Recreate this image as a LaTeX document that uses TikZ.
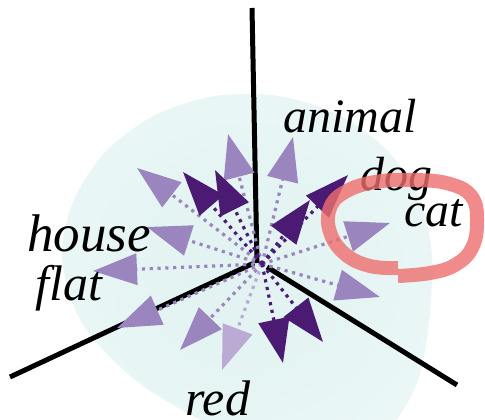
\documentclass[tikz,border=0pt]{standalone}
\usepackage{fontspec}
\setmainfont{Liberation Serif}
\usetikzlibrary{arrows.meta}
\definecolor{medp}{RGB}{155,133,190}
\definecolor{darkp}{RGB}{75,26,115}
\definecolor{lightp}{RGB}{187,170,212}
\definecolor{pinkc}{RGB}{238,110,110}
\definecolor{ellA}{RGB}{224,242,241}
\definecolor{ellB}{RGB}{234,247,246}
\definecolor{ellC}{RGB}{243,250,250}
\pgfdeclareradialshading{ellshade}{\pgfpoint{0bp}{0bp}}{color(0bp)=(ellA); color(28bp)=(ellB); color(50bp)=(ellC)}
\tikzset{
  axis/.style={line width=5pt, black},
  arr/.style={line width=3.2pt, dash pattern=on 3.2pt off 4.6pt, -{Triangle[length=44pt,width=31pt]}},
  medarr/.style={arr, medp},
  darkarr/.style={arr, darkp},
  lightarr/.style={arr, lightp},
  word/.style={inner sep=0pt, anchor=base west, font=\itshape\fontsize{48}{48}\selectfont},
  bigword/.style={word, font=\itshape\fontsize{50}{50}\selectfont},
  pinkloop/.style={line width=14pt, pinkc, opacity=0.8}
}
\begin{document}
\begin{tikzpicture}[x=1pt,y=-1pt]
\useasboundingbox (0,0) rectangle (485,420);
% background blob
\shade[shading=ellshade] plot[smooth cycle] coordinates {(432,258) (429,323) (418,380) (393,423) (349,445) (284,445) (208,423) (135,380) (82,323) (62,258) (73,202) (105,152) (155,115) (215,96) (279,96) (339,115) (389,152) (421,202)};
% axes
\coordinate (ztop) at (252,8);
\coordinate (zbot) at (257,263);
\coordinate (xl) at (10,377);
\coordinate (xle) at (254,263);
\coordinate (yr0) at (267,267);
\coordinate (yr) at (457,385);
\draw[axis] (ztop) -- (zbot);
\draw[axis] (xl) -- (xle);
\draw[axis] (yr0) -- (yr);
% arrows
\coordinate (o) at (262,264);
\coordinate (t1) at (228,134);
\coordinate (t2) at (293,137);
\coordinate (t3) at (137,168);
\coordinate (t4) at (183,172);
\coordinate (t5) at (215,170);
\coordinate (t6) at (348,175);
\coordinate (t7) at (310,200);
\coordinate (t8) at (147,227);
\coordinate (t9) at (93,271);
\coordinate (t10) at (117,328);
\coordinate (t11) at (180,350);
\coordinate (t12) at (222,370);
\coordinate (t13) at (283,363);
\coordinate (t14) at (323,342);
\coordinate (t15) at (380,297);
\coordinate (t16) at (390,223);
\draw[medarr] (o) -- (t1);
\draw[medarr] (o) -- (t2);
\draw[medarr] (o) -- (t3);
\draw[medarr] (o) -- (t8);
\draw[medarr] (o) -- (t9);
\draw[medarr] (o) -- (t10);
\draw[medarr] (o) -- (t11);
\draw[lightarr] (o) -- (t12);
\draw[medarr] (o) -- (t15);
\draw[medarr] (o) -- (t16);
\draw[darkarr] (o) -- (t4);
\draw[darkarr] (o) -- (t5);
\draw[darkarr] (o) -- (t6);
\draw[darkarr] (o) -- (t7);
\draw[darkarr] (o) -- (t13);
\draw[darkarr] (o) -- (t14);
% words
\node[word] (animal) at (283,132) {animal};
\node[word] (dog) at (360,190) {dog};
\node[word] (cat) at (404,226) {cat};
\node[word, font=\itshape\fontsize{53}{53}\selectfont] (house) at (27,251) {house};
\node[bigword] (flat) at (35,300) {flat};
\node[bigword] (red) at (185,415) {red};
% pink loop
\draw[pinkloop] plot[smooth, tension=0.7] coordinates {(398,268) (370,266) (345,254) (330,232) (330,208) (345,192) (375,182) (415,180) (450,184) (472,197) (477,222) (472,248) (455,265) (430,273) (398,276)};
\end{tikzpicture}
\end{document}
